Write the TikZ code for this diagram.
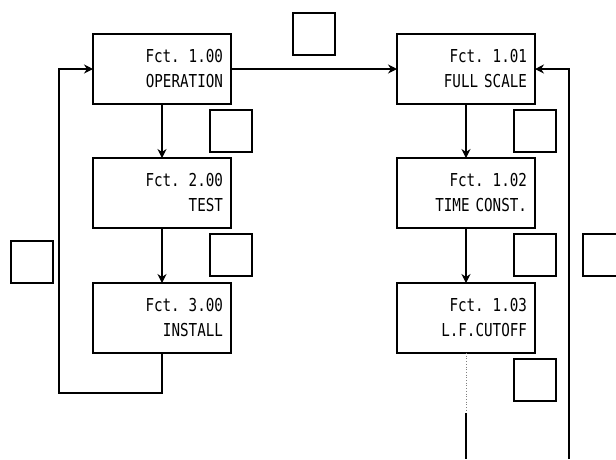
\documentclass[tikz,border=0pt]{standalone}
\usepackage{fontspec}
\newfontfamily\dispfont[FakeStretch=0.8]{DejaVu Sans Mono}
\usetikzlibrary{arrows.meta}
\begin{document}
\begin{tikzpicture}[x=1pt,y=-1pt,line width=1.1pt,>={Stealth[length=9pt,width=9pt]},
  every node/.style={outer sep=0pt},
  fctbox/.style={draw, minimum height=70pt, text width=122pt, inner xsep=8pt, align=right,
    font=\dispfont\fontsize{17.8}{25}\selectfont},
  keybox/.style={draw, minimum size=42pt, inner sep=0pt}]
\clip (0,0) rectangle (616,459);
% menu boxes
\node[fctbox] (op) at (162,69) {Fct. 1.00\\OPERATION};
\node[fctbox] (test) at (162,193) {Fct. 2.00\\TEST};
\node[fctbox] (inst) at (162,318) {Fct. 3.00\\INSTALL};
\node[fctbox] (fs) at (466,69) {Fct. 1.01\\FULL SCALE};
\node[fctbox] (tc) at (466,193) {Fct. 1.02\\TIME CONST.};
\node[fctbox] (lfc) at (466,318) {Fct. 1.03\\L.F.CUTOFF};
% key squares
\node[keybox] (kTop) at (314,34) {};
\node[keybox] (kOpTest) at (231,131) {};
\node[keybox] (kTestInst) at (231,255) {};
\node[keybox] (kLoop) at (32,262) {};
\node[keybox] (kFsTc) at (535,131) {};
\node[keybox] (kTcLfc) at (535,255) {};
\node[keybox] (kLfc) at (535,380) {};
\node[keybox] (kRight) at (604,255) {};
% connectors
\coordinate (lb) at (59,393);
\coordinate (rb) at (569,459);
\coordinate (dotend) at (466,410);
\coordinate (soltop) at (466,413);
\coordinate (solend) at (466,459);
\draw[->] (op) -- (test);
\draw[->] (test) -- (inst);
\draw[->] (inst.south) |- (lb) |- (op.west);
\draw[->] (op.east) -- (fs.west);
\draw[->] (fs) -- (tc);
\draw[->] (tc) -- (lfc);
\draw[->] (rb) |- (fs.east);
\draw[dotted,line width=0.7pt,gray] (lfc.south) -- (dotend);
\draw (soltop) -- (solend);
\end{tikzpicture}
\end{document}
